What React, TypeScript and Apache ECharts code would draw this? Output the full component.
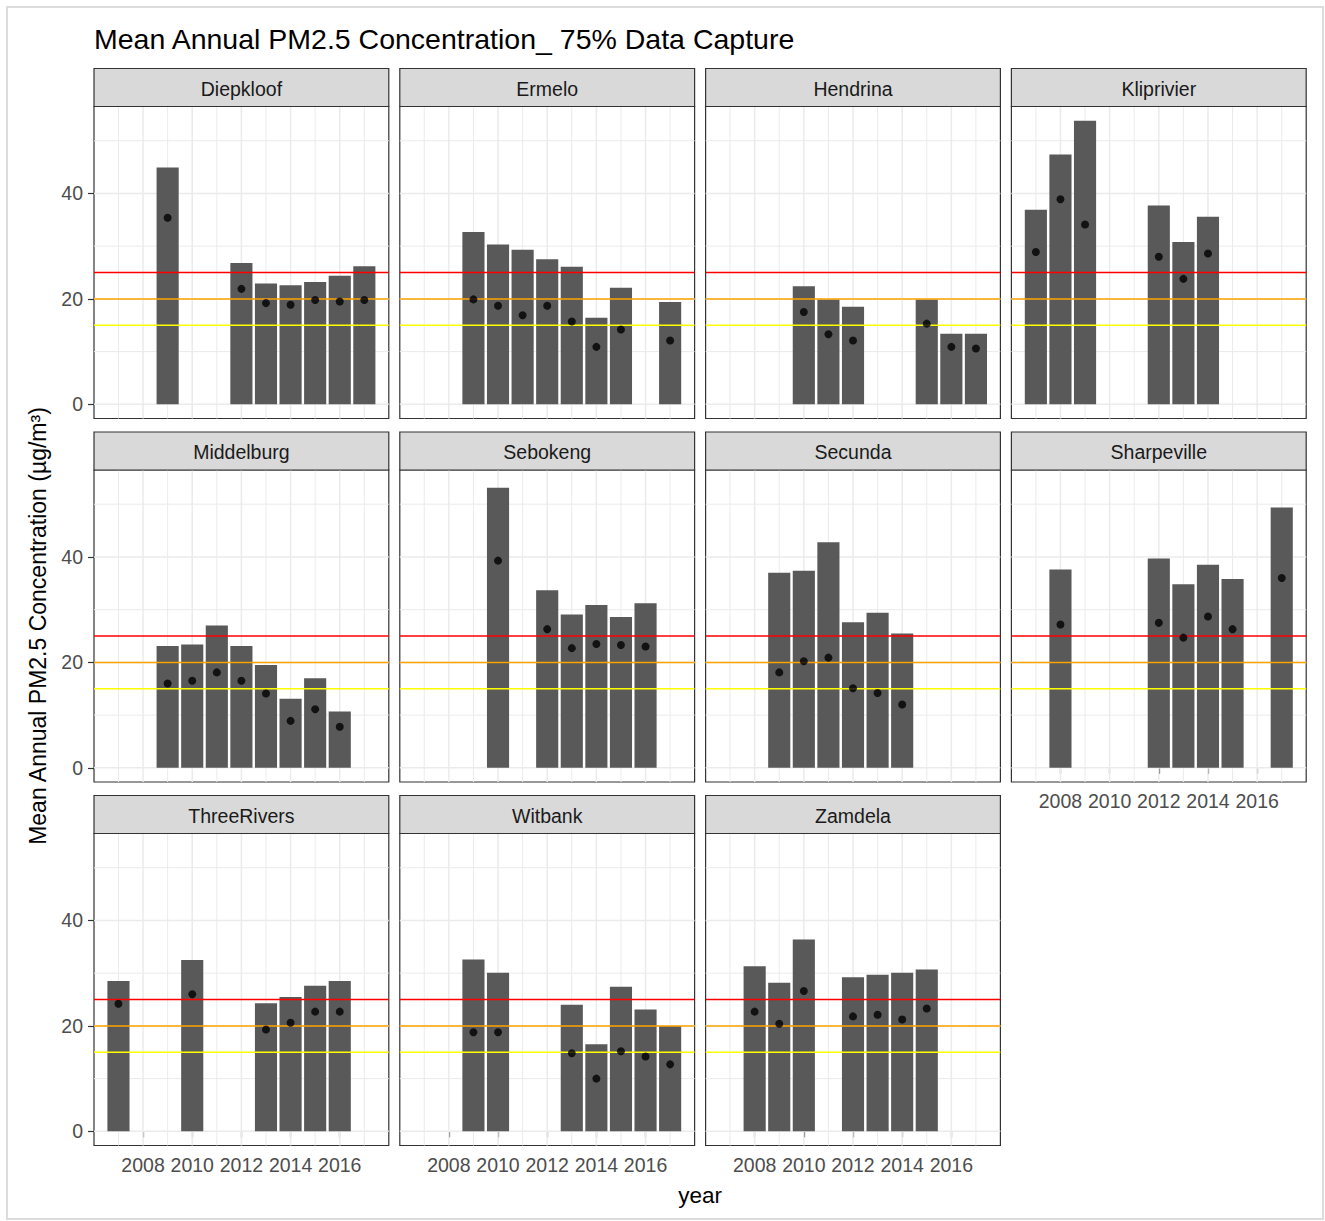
import React, { useEffect, useRef } from "react";
import * as echarts from "echarts";

const FONT = "'Liberation Sans', Arial, Helvetica, sans-serif";

const chartTitle = "Mean Annual PM2.5 Concentration_ 75% Data Capture";
const yTitle = "Mean Annual PM2.5 Concentration (µg/m³)";
const xTitle = "year";

// Axis breaks and reference levels
const majorYears = [2008, 2010, 2012, 2014, 2016];
const minorYears = [2007, 2009, 2011, 2013, 2015, 2017];
const majorLevels = [0, 20, 40];
const minorLevels = [10, 30, 50];
const thresholdLevels = [25, 20, 15];
const thresholdColors = ["#ff0000", "#ffa500", "#ffff00"];

// Station data: year, annual mean (bar) and annual median (point)
const diepkloofYears = [2009, 2012, 2013, 2014, 2015, 2016, 2017];
const diepkloofMean = [44.9, 26.8, 22.9, 22.6, 23.2, 24.4, 26.2];
const diepkloofMedian = [35.4, 21.9, 19.2, 18.9, 19.8, 19.5, 19.8];

const ermeloYears = [2009, 2010, 2011, 2012, 2013, 2014, 2015, 2017];
const ermeloMean = [32.7, 30.3, 29.3, 27.5, 26.1, 16.4, 22.1, 19.4];
const ermeloMedian = [19.9, 18.7, 16.9, 18.7, 15.7, 10.9, 14.2, 12.1];

const hendrinaYears = [2010, 2011, 2012, 2015, 2016, 2017];
const hendrinaMean = [22.4, 19.9, 18.5, 19.9, 13.4, 13.4];
const hendrinaMedian = [17.5, 13.3, 12.1, 15.3, 10.9, 10.6];

const kliprivierYears = [2007, 2008, 2009, 2012, 2013, 2014];
const kliprivierMean = [36.9, 47.4, 53.8, 37.7, 30.8, 35.6];
const kliprivierMedian = [28.9, 38.9, 34.1, 28.0, 23.8, 28.6];

const middelburgYears = [2009, 2010, 2011, 2012, 2013, 2014, 2015, 2016];
const middelburgMean = [23.1, 23.4, 27.0, 23.1, 19.5, 13.1, 17.0, 10.7];
const middelburgMedian = [16.0, 16.5, 18.1, 16.5, 14.1, 8.9, 11.1, 7.8];

const sebokengYears = [2010, 2012, 2013, 2014, 2015, 2016];
const sebokengMean = [53.1, 33.7, 29.1, 30.9, 28.6, 31.2];
const sebokengMedian = [39.3, 26.3, 22.7, 23.5, 23.3, 23.0];

const secundaYears = [2009, 2010, 2011, 2012, 2013, 2014];
const secundaMean = [37.0, 37.4, 42.8, 27.6, 29.4, 25.5];
const secundaMedian = [18.1, 20.2, 20.9, 15.1, 14.2, 12.0];

const sharpevilleYears = [2008, 2012, 2013, 2014, 2015, 2017];
const sharpevilleMean = [37.6, 39.7, 34.8, 38.5, 35.8, 49.4];
const sharpevilleMedian = [27.2, 27.5, 24.7, 28.7, 26.3, 36.0];

const threeRiversYears = [2007, 2010, 2013, 2014, 2015, 2016];
const threeRiversMean = [28.5, 32.5, 24.3, 25.5, 27.6, 28.5];
const threeRiversMedian = [24.2, 26.0, 19.3, 20.6, 22.7, 22.7];

const witbankYears = [2009, 2010, 2013, 2014, 2015, 2016, 2017];
const witbankMean = [32.6, 30.1, 24.0, 16.5, 27.4, 23.1, 20.0];
const witbankMedian = [18.8, 18.8, 14.8, 10.0, 15.2, 14.2, 12.7];

const zamdelaYears = [2008, 2009, 2010, 2012, 2013, 2014, 2015];
const zamdelaMean = [31.3, 28.2, 36.4, 29.2, 29.7, 30.1, 30.7];
const zamdelaMedian = [22.7, 20.4, 26.6, 21.8, 22.1, 21.2, 23.3];

const stations = [
  { name: "Diepkloof", years: diepkloofYears, mean: diepkloofMean, median: diepkloofMedian },
  { name: "Ermelo", years: ermeloYears, mean: ermeloMean, median: ermeloMedian },
  { name: "Hendrina", years: hendrinaYears, mean: hendrinaMean, median: hendrinaMedian },
  { name: "Kliprivier", years: kliprivierYears, mean: kliprivierMean, median: kliprivierMedian },
  { name: "Middelburg", years: middelburgYears, mean: middelburgMean, median: middelburgMedian },
  { name: "Sebokeng", years: sebokengYears, mean: sebokengMean, median: sebokengMedian },
  { name: "Secunda", years: secundaYears, mean: secundaMean, median: secundaMedian },
  { name: "Sharpeville", years: sharpevilleYears, mean: sharpevilleMean, median: sharpevilleMedian },
  { name: "ThreeRivers", years: threeRiversYears, mean: threeRiversMean, median: threeRiversMedian },
  { name: "Witbank", years: witbankYears, mean: witbankMean, median: witbankMedian },
  { name: "Zamdela", years: zamdelaYears, mean: zamdelaMean, median: zamdelaMedian },
];

// Facet layout (pixels)
const NCOL = 4;
const PANEL_LEFT0 = 94;
const COL_STEP = 305.8;
const PANEL_W = 294.8;
const PANEL_TOP0 = 106.5;
const ROW_STEP = 363.5;
const PANEL_H = 312;
const STRIP_H = 38;

const BAR_HALF = 0.45;

function buildOption() {
  const allYears = stations.flatMap((s) => s.years);
  const allMeans = stations.flatMap((s) => s.mean);
  const loYear = Math.min(...allYears) - BAR_HALF;
  const hiYear = Math.max(...allYears) + BAR_HALF;
  const padX = (hiYear - loYear) * 0.05;
  const xMin = loYear - padX;
  const xMax = hiYear + padX;
  const top = Math.max(...allMeans);
  const yMin = -top * 0.05;
  const yMax = top * 1.05;

  const grids: any[] = [];
  const xAxes: any[] = [];
  const yAxes: any[] = [];
  const series: any[] = [];
  const graphics: any[] = [];

  const n = stations.length;
  stations.forEach((st, i) => {
    const col = i % NCOL;
    const row = Math.floor(i / NCOL);
    const left = PANEL_LEFT0 + col * COL_STEP;
    const topPx = PANEL_TOP0 + row * ROW_STEP;
    const showX = i + NCOL >= n;
    const showY = col === 0;

    grids.push({
      left,
      top: topPx,
      width: PANEL_W,
      height: PANEL_H,
      show: true,
      backgroundColor: "#ffffff",
      borderColor: "#333333",
      borderWidth: 1.2,
      containLabel: false,
    });

    xAxes.push({
      type: "value",
      gridIndex: i,
      min: xMin,
      max: xMax,
      axisLine: { show: false },
      splitLine: { show: false },
      axisTick: {
        show: showX,
        customValues: majorYears,
        length: 6,
        lineStyle: { color: "#333333", width: 1.2 },
      },
      axisLabel: {
        show: showX,
        customValues: majorYears,
        margin: 9,
        color: "#4d4d4d",
        fontSize: 19.5,
        fontFamily: FONT,
        formatter: (v: number) => String(v),
      },
    });

    yAxes.push({
      type: "value",
      gridIndex: i,
      min: yMin,
      max: yMax,
      axisLine: { show: false },
      splitLine: { show: false },
      axisTick: {
        show: showY,
        customValues: majorLevels,
        length: 6,
        lineStyle: { color: "#333333", width: 1.2 },
      },
      axisLabel: {
        show: showY,
        customValues: majorLevels,
        margin: 11,
        color: "#4d4d4d",
        fontSize: 19.5,
        fontFamily: FONT,
        formatter: (v: number) => String(v),
      },
    });

    // panel grid lines: vertical at every year, horizontal every 10 units
    series.push({
      type: "custom",
      xAxisIndex: i,
      yAxisIndex: i,
      z: 1,
      silent: true,
      data: [...minorYears.map((y) => [y, 0]), ...majorYears.map((y) => [y, 1])],
      renderItem: (_p: any, api: any) => {
        const x = api.value(0);
        const major = api.value(1) === 1;
        const a = api.coord([x, yMax]);
        const b = api.coord([x, yMin]);
        return {
          type: "line",
          shape: { x1: a[0], y1: a[1], x2: b[0], y2: b[1] },
          style: { stroke: "#ebebeb", lineWidth: major ? 1.5 : 1 },
        };
      },
    });
    series.push({
      type: "custom",
      xAxisIndex: i,
      yAxisIndex: i,
      z: 1,
      silent: true,
      data: [...minorLevels.map((v) => [xMin, v, 0]), ...majorLevels.map((v) => [xMin, v, 1])],
      renderItem: (_p: any, api: any) => {
        const v = api.value(1);
        const major = api.value(2) === 1;
        const a = api.coord([xMin, v]);
        const b = api.coord([xMax, v]);
        return {
          type: "line",
          shape: { x1: a[0], y1: a[1], x2: b[0], y2: b[1] },
          style: { stroke: "#ebebeb", lineWidth: major ? 1.5 : 1 },
        };
      },
    });

    // annual mean bars
    series.push({
      type: "custom",
      name: st.name,
      xAxisIndex: i,
      yAxisIndex: i,
      z: 2,
      data: st.years.map((y, k) => [y, st.mean[k]]),
      renderItem: (_p: any, api: any) => {
        const yr = api.value(0);
        const v = api.value(1);
        const a = api.coord([yr - BAR_HALF, v]);
        const b = api.coord([yr + BAR_HALF, 0]);
        return {
          type: "rect",
          shape: { x: a[0], y: a[1], width: b[0] - a[0], height: b[1] - a[1] },
          style: { fill: "#595959" },
        };
      },
    });

    // guideline levels
    series.push({
      type: "custom",
      xAxisIndex: i,
      yAxisIndex: i,
      z: 3,
      silent: true,
      data: thresholdLevels.map((v) => [xMin, v]),
      renderItem: (p: any, api: any) => {
        const v = api.value(1);
        const a = api.coord([xMin, v]);
        const b = api.coord([xMax, v]);
        return {
          type: "line",
          shape: { x1: a[0], y1: a[1], x2: b[0], y2: b[1] },
          style: { stroke: thresholdColors[p.dataIndex], lineWidth: 1.5 },
        };
      },
    });

    // annual median points
    series.push({
      type: "scatter",
      xAxisIndex: i,
      yAxisIndex: i,
      z: 4,
      symbol: "circle",
      symbolSize: 8,
      itemStyle: { color: "#000000" },
      data: st.years.map((y, k) => [y, st.median[k]]),
    });

    // facet strip
    graphics.push({
      type: "rect",
      shape: { x: left, y: topPx - STRIP_H, width: PANEL_W, height: STRIP_H },
      style: { fill: "#d9d9d9", stroke: "#333333", lineWidth: 1.2 },
      z: 10,
    });
    graphics.push({
      type: "text",
      x: left + PANEL_W / 2,
      y: topPx - STRIP_H / 2 + 1,
      style: {
        text: st.name,
        fill: "#1a1a1a",
        fontSize: 19.5,
        fontFamily: FONT,
        textAlign: "center",
        textVerticalAlign: "middle",
      },
      z: 11,
    });
  });

  const lastBottom = PANEL_TOP0 + 2 * ROW_STEP + PANEL_H;
  const panelsRight = PANEL_LEFT0 + (NCOL - 1) * COL_STEP + PANEL_W;

  graphics.push({
    type: "text",
    x: 38,
    y: (PANEL_TOP0 + lastBottom) / 2,
    rotation: Math.PI / 2,
    style: {
      text: yTitle,
      fill: "#000000",
      fontSize: 23,
      fontFamily: FONT,
      textAlign: "center",
      textVerticalAlign: "middle",
    },
    z: 11,
  });
  graphics.push({
    type: "text",
    x: (PANEL_LEFT0 + panelsRight) / 2,
    y: 1195,
    style: {
      text: xTitle,
      fill: "#000000",
      fontSize: 22.5,
      fontFamily: FONT,
      textAlign: "center",
      textVerticalAlign: "middle",
    },
    z: 11,
  });
  // outer frame
  graphics.push({
    type: "rect",
    shape: { x: 7, y: 7, width: 1316, height: 1212 },
    style: { fill: "none", stroke: "#dcdcdc", lineWidth: 2 },
    z: 0,
  });

  return {
    animation: false,
    backgroundColor: "#ffffff",
    title: {
      text: chartTitle,
      left: 94,
      top: 24,
      padding: 0,
      textStyle: { fontSize: 28.5, fontWeight: "normal", color: "#000000", fontFamily: FONT },
    },
    grid: grids,
    xAxis: xAxes,
    yAxis: yAxes,
    series,
    graphic: graphics,
  };
}

export default function App() {
  const ref = useRef<HTMLDivElement>(null);
  useEffect(() => {
    if (!ref.current) return;
    const chart = echarts.init(ref.current, undefined, { renderer: "svg" });
    chart.setOption(buildOption() as any);
    return () => chart.dispose();
  }, []);
  return (
    <div
      ref={ref}
      style={{ position: "fixed", left: 0, top: 0, width: 1325, height: 1221, background: "#fff" }}
    />
  );
}
